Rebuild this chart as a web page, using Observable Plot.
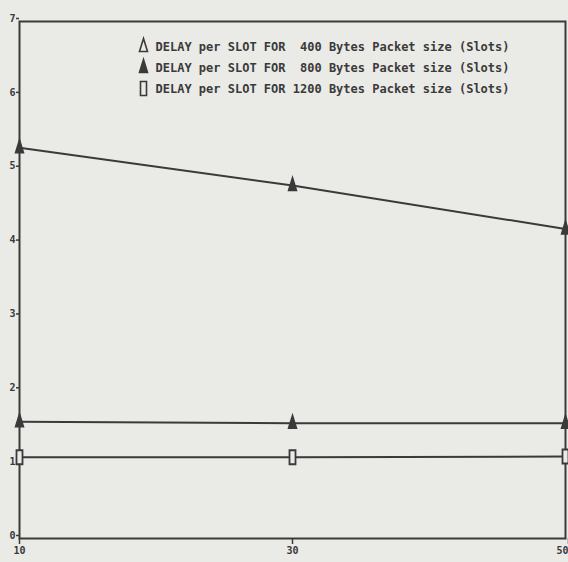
<!DOCTYPE html>
<html><head><meta charset="utf-8">
<script src="https://cdn.jsdelivr.net/npm/d3@7"></script>
<script src="https://cdn.jsdelivr.net/npm/@observablehq/plot@0.6"></script>
<style>
body{margin:0;background:#e9e9e6;}
#chart svg{display:block;background:#eaeae7;}
</style>
</head><body><div id="chart"></div>
<script>
const xValues = [10, 30, 50];
const delay400 = [5.29, 4.78, 4.19];
const delay800 = [1.58, 1.56, 1.56];
const delay1200 = [1.10, 1.10, 1.11];
const legendLabels = [
  "DELAY per SLOT FOR  400 Bytes Packet size (Slots)",
  "DELAY per SLOT FOR  800 Bytes Packet size (Slots)",
  "DELAY per SLOT FOR 1200 Bytes Packet size (Slots)"
];
const xTicks = [10, 30, 50];
const yTicks = [0, 1, 2, 3, 4, 5, 6, 7];

const ink = "#3a3a3a";
const paper = "#eaeae7";
const font = "DejaVu Sans Mono";

const tallTriangle = {draw(ctx){ ctx.moveTo(0,-8); ctx.lineTo(4,5); ctx.lineTo(-4,5); ctx.closePath(); }};
const tallRect = {draw(ctx){ ctx.rect(-3,-7,6,14); }};

const s400 = xValues.map((x,i)=>({x, y: delay400[i]}));
const s800 = xValues.map((x,i)=>({x, y: delay800[i]}));
const s1200 = xValues.map((x,i)=>({x, y: delay1200[i]}));

const legendSymbols = [
  {symbol: tallTriangle, fill: paper},
  {symbol: tallTriangle, fill: ink},
  {symbol: tallRect, fill: paper}
];

const chart = Plot.plot({
  width: 568,
  height: 562,
  marginLeft: 19,
  marginRight: 3,
  marginTop: 21,
  marginBottom: 24,
  style: {fontFamily: font, fontWeight: "bold", fontSize: "10px", color: ink, background: paper},
  x: {domain: [10, 50]},
  y: {domain: [0, 7]},
  marks: [
    Plot.frame({stroke: ink, strokeWidth: 2}),
    Plot.axisX({ticks: xTicks.slice(0, 2), tickSize: 6, tickPadding: 2, stroke: ink, strokeWidth: 1.5, fill: ink, label: null}),
    Plot.axisX({ticks: xTicks.slice(2), tickSize: 6, tickPadding: 2, stroke: ink, strokeWidth: 1.5, fill: ink, label: null, textAnchor: "end", dx: 3}),
    Plot.axisY({ticks: yTicks, tickFormat: "d", tickSize: 3, tickPadding: 1, stroke: ink, strokeWidth: 1.5, fill: ink, label: null, dy: -3}),
    Plot.line(s400, {x: "x", y: "y", stroke: ink, strokeWidth: 2}),
    Plot.line(s800, {x: "x", y: "y", stroke: ink, strokeWidth: 2}),
    Plot.line(s1200, {x: "x", y: "y", stroke: ink, strokeWidth: 2}),
    Plot.dot(s400, {x: "x", y: "y", symbol: tallTriangle, fill: ink, stroke: ink, r: 3}),
    Plot.dot(s800, {x: "x", y: "y", symbol: tallTriangle, fill: ink, stroke: ink, r: 3}),
    Plot.dot(s1200, {x: "x", y: "y", symbol: tallRect, fill: paper, stroke: ink, strokeWidth: 1.8, r: 3}),
    ...legendSymbols.map((s, i) => Plot.dot([i], {
      frameAnchor: "top-left", dx: 124, dy: 25 + i * 21,
      symbol: s.symbol, fill: s.fill, stroke: ink, strokeWidth: 1.6, r: 3
    })),
    ...legendLabels.map((t, i) => Plot.text([t], {
      text: d => d, frameAnchor: "top-left", textAnchor: "start",
      dx: 136, dy: 21 + i * 21, fill: ink, fontSize: 12, fontWeight: "bold", fontFamily: font
    }))
  ]
});
document.getElementById("chart").append(chart);
</script>
</body></html>
